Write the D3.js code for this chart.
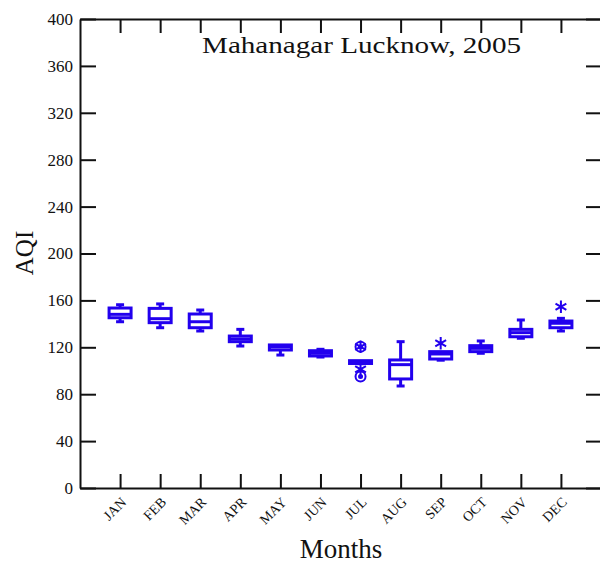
<!DOCTYPE html>
<html>
<head>
<meta charset="utf-8">
<script src="https://cdn.jsdelivr.net/npm/d3@7"></script>
<style>
  body { margin: 0; background: #fff; }
</style>
</head>
<body>
<div id="chart"></div>
<script>
// AQI box plot data
const months = ["JAN", "FEB", "MAR", "APR", "MAY", "JUN", "JUL", "AUG", "SEP", "OCT", "NOV", "DEC"];
const whiskerLow = [141.8, 136.7, 133.9, 121.1, 113.4, 111.7, 106.0, 87.0, 109.0, 114.9, 127.7, 133.9];
const q1 = [145.2, 141.0, 136.7, 124.8, 117.7, 112.6, 106.2, 93.0, 110.0, 116.3, 129.0, 136.7];
const median = [148.1, 144.4, 141.8, 127.1, 120.3, 114.9, 107.3, 105.2, 114.3, 119.1, 132.5, 140.5];
const q3 = [153.5, 153.2, 148.4, 129.6, 122.0, 117.1, 108.6, 109.2, 116.3, 121.4, 135.3, 142.4];
const whiskerHigh = [156.3, 157.0, 151.8, 135.3, 122.0, 118.3, 108.6, 124.8, 116.3, 125.4, 143.3, 144.7];
// outliers: [month, value, symbol]
const outliers = [
    ["JUL", 120.5, "circle"], ["JUL", 120.5, "star"],
    ["JUL", 101.2, "star"], ["JUL", 95.0, "circle"],
    ["SEP", 123.4, "star"],
    ["DEC", 154.6, "star"]
];
const yTicks = [0, 40, 80, 120, 160, 200, 240, 280, 320, 360, 400];

const width = 600, height = 563;
const mLeft = 80, mRight = 601, mTop = 19, mBottom = 488;
const blue = "#2200ee";
const serif = "'Liberation Serif', 'Times New Roman', serif";

const svg = d3.select("#chart").append("svg")
    .attr("width", width)
    .attr("height", height)
    .attr("font-family", serif);

const x = d3.scalePoint().domain(months).range([mLeft, mRight]).padding(1);
const y = d3.scaleLinear().domain([0, 400]).range([mBottom, mTop]);

// axes on all four sides, ticks pointing inward
const gLeft = svg.append("g").attr("transform", `translate(${mLeft},0)`)
    .call(d3.axisLeft(y).tickValues(yTicks).tickSize(-16).tickPadding(7).tickSizeOuter(0));
const gRight = svg.append("g").attr("transform", `translate(${mRight},0)`)
    .call(d3.axisRight(y).tickValues(yTicks).tickSize(-15).tickFormat("").tickSizeOuter(0));
const gBottom = svg.append("g").attr("transform", `translate(0,${mBottom})`)
    .call(d3.axisBottom(x).tickSize(-14).tickFormat("").tickSizeOuter(0));
const gTop = svg.append("g").attr("transform", `translate(0,${mTop})`)
    .call(d3.axisTop(x).tickSize(-14).tickFormat("").tickSizeOuter(0));

[gLeft, gRight, gBottom, gTop].forEach(g => {
    g.attr("font-family", serif);
    g.select(".domain").attr("stroke", "#111").attr("stroke-width", 2);
    g.selectAll(".tick line").attr("stroke", "#111").attr("stroke-width", 2);
});

gLeft.selectAll(".tick text")
    .attr("font-family", serif)
    .attr("font-size", "17px")
    .attr("fill", "#111");

// slanted month labels (45 degrees up to the right)
const c45 = Math.SQRT1_2;
svg.append("g").selectAll("text").data(months).join("text")
    .attr("transform", d => `matrix(${c45},${-c45},${c45},${c45},${x(d) + 7},${mBottom + 15})`)
    .attr("text-anchor", "end")
    .attr("font-family", serif)
    .attr("font-size", "14px")
    .attr("fill", "#111")
    .text(d => d);

// boxes
const data = months.map((m, i) => ({
    month: m, lo: whiskerLow[i], q1: q1[i], med: median[i], q3: q3[i], hi: whiskerHigh[i]
}));

const boxW = 22, capW = 8, lw = 3;
const g = svg.append("g")
    .attr("stroke", blue)
    .attr("stroke-width", lw)
    .attr("fill", "none");

const box = g.selectAll("g.box").data(data).join("g").attr("class", "box");

box.append("line")
    .attr("x1", d => x(d.month)).attr("x2", d => x(d.month))
    .attr("y1", d => y(d.hi)).attr("y2", d => y(d.q3));
box.append("line")
    .attr("x1", d => x(d.month)).attr("x2", d => x(d.month))
    .attr("y1", d => y(d.q1)).attr("y2", d => y(d.lo));
box.filter(d => d.hi > d.q3).append("line")
    .attr("x1", d => x(d.month) - capW / 2).attr("x2", d => x(d.month) + capW / 2)
    .attr("y1", d => y(d.hi)).attr("y2", d => y(d.hi));
box.filter(d => d.lo < d.q1).append("line")
    .attr("x1", d => x(d.month) - capW / 2).attr("x2", d => x(d.month) + capW / 2)
    .attr("y1", d => y(d.lo)).attr("y2", d => y(d.lo));
box.append("rect")
    .attr("x", d => x(d.month) - boxW / 2)
    .attr("width", boxW)
    .attr("y", d => y(d.q3))
    .attr("height", d => Math.max(y(d.q1) - y(d.q3), 1));
box.append("line")
    .attr("x1", d => x(d.month) - boxW / 2).attr("x2", d => x(d.month) + boxW / 2)
    .attr("y1", d => y(d.med)).attr("y2", d => y(d.med));

// outlier symbols
const outG = svg.append("g").attr("stroke", blue).attr("fill", "none").attr("stroke-width", 2);
outG.selectAll("circle.ring").data(outliers.filter(d => d[2] === "circle")).join("circle")
    .attr("class", "ring")
    .attr("cx", d => x(d[0])).attr("cy", d => y(d[1])).attr("r", 5);
outG.selectAll("path.star").data(outliers.filter(d => d[2] === "star")).join("path")
    .attr("class", "star")
    .attr("transform", d => `translate(${x(d[0])},${y(d[1])})`)
    .attr("d", d3.symbol().type(d3.symbolAsterisk).size(110));
outG.selectAll("circle.dot").data(outliers.filter(d => d[2] === "circle")).join("circle")
    .attr("class", "dot")
    .attr("cx", d => x(d[0])).attr("cy", d => y(d[1])).attr("r", 1.5)
    .attr("fill", blue);

// titles
svg.append("text")
    .attr("x", 202).attr("y", 53)
    .attr("font-size", "24px")
    .attr("fill", "#111")
    .attr("textLength", 319)
    .attr("lengthAdjust", "spacingAndGlyphs")
    .text("Mahanagar Lucknow, 2005");

svg.append("text")
    .attr("text-anchor", "middle")
    .attr("x", 341).attr("y", 558)
    .attr("font-size", "27px")
    .attr("fill", "#111")
    .text("Months");

svg.append("text")
    .attr("text-anchor", "middle")
    .attr("transform", "translate(33,253) rotate(-90)")
    .attr("font-size", "25px")
    .attr("fill", "#111")
    .text("AQI");
</script>
</body>
</html>
